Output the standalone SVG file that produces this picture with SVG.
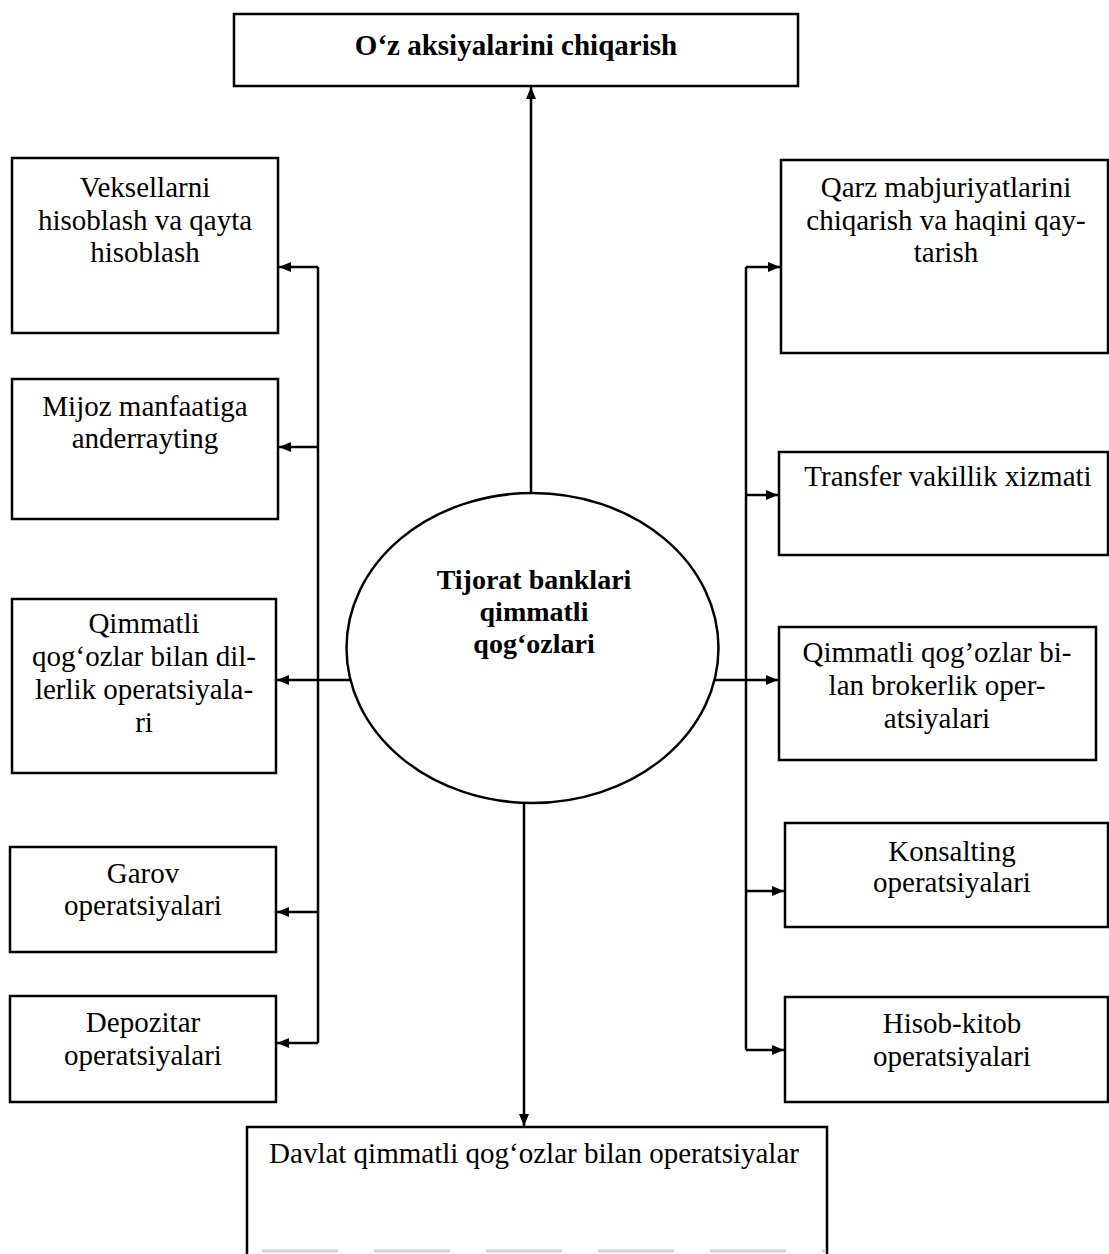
<svg xmlns="http://www.w3.org/2000/svg" width="1109" height="1254" viewBox="0 0 1109 1254">
<style>
.box{fill:#fff;stroke:#000;stroke-width:2.5}
.t{font-family:"Liberation Serif","Times New Roman",serif;font-size:29px;fill:#000;text-anchor:middle}
.b{font-weight:bold}
.e{font-size:28px}
.c{fill:none;stroke:#000;stroke-width:2.5}
</style>
<defs>
<marker id="arr" viewBox="0 0 12 10" refX="12" refY="5" markerWidth="12" markerHeight="10" markerUnits="userSpaceOnUse" orient="auto">
<path d="M0,0 L12,5 L0,10 z" fill="#000"/>
</marker>
</defs>
<rect width="1109" height="1254" fill="#fff"/>

<g id="n-top">
<rect class="box" x="234" y="14" width="564" height="72"/>
<text class="t b" x="516" y="55">O‘z aksiyalarini chiqarish</text>
</g>

<g id="n-center">
<ellipse class="box" cx="532.5" cy="648" rx="186" ry="155"/>
<text class="t b e" x="534" y="589">Tijorat banklari</text>
<text class="t b e" x="534" y="621">qimmatli</text>
<text class="t b e" x="534" y="653">qog‘ozlari</text>
</g>

<g id="n-veksel">
<rect class="box" x="12" y="158" width="266" height="175"/>
<text class="t" x="145" y="197">Veksellarni</text>
<text class="t" x="145" y="230">hisoblash va qayta</text>
<text class="t" x="145" y="262">hisoblash</text>
</g>

<g id="n-mijoz">
<rect class="box" x="12" y="379" width="266" height="140"/>
<text class="t" x="145" y="416">Mijoz manfaatiga</text>
<text class="t" x="145" y="448">anderrayting</text>
</g>

<g id="n-diler">
<rect class="box" x="12" y="599" width="264" height="174"/>
<text class="t" x="144" y="633">Qimmatli</text>
<text class="t" x="144" y="666">qog‘ozlar bilan dil-</text>
<text class="t" x="144" y="699">lerlik operatsiyala-</text>
<text class="t" x="144" y="732">ri</text>
</g>

<g id="n-garov">
<rect class="box" x="10" y="847" width="266" height="105"/>
<text class="t" x="143" y="883">Garov</text>
<text class="t" x="143" y="915">operatsiyalari</text>
</g>

<g id="n-depozitar">
<rect class="box" x="10" y="996" width="266" height="106"/>
<text class="t" x="143" y="1032">Depozitar</text>
<text class="t" x="143" y="1065">operatsiyalari</text>
</g>

<g id="n-qarz">
<rect class="box" x="781" y="160" width="327" height="193"/>
<text class="t" x="946" y="197">Qarz mabjuriyatlarini</text>
<text class="t" x="946" y="230">chiqarish va haqini qay-</text>
<text class="t" x="946" y="262">tarish</text>
</g>

<g id="n-transfer">
<rect class="box" x="779" y="452" width="329" height="103"/>
<text class="t" x="948" y="486">Transfer vakillik xizmati</text>
</g>

<g id="n-broker">
<rect class="box" x="779" y="627" width="317" height="133"/>
<text class="t" x="937" y="662">Qimmatli qog’ozlar bi-</text>
<text class="t" x="937" y="695">lan brokerlik oper-</text>
<text class="t" x="937" y="728">atsiyalari</text>
</g>

<g id="n-konsalting">
<rect class="box" x="785" y="823" width="323" height="104"/>
<text class="t" x="952" y="861">Konsalting</text>
<text class="t" x="952" y="892">operatsiyalari</text>
</g>

<g id="n-hisob">
<rect class="box" x="785" y="997" width="323" height="105"/>
<text class="t" x="952" y="1033">Hisob-kitob</text>
<text class="t" x="952" y="1066">operatsiyalari</text>
</g>

<g id="n-davlat">
<path class="box" d="M247,1256 V1127 H827 V1256"/>
<line x1="262" y1="1251" x2="826" y2="1251" stroke="#d4d4d4" stroke-width="3" stroke-dasharray="76,36"/>
<text class="t" x="534" y="1163">Davlat qimmatli qog‘ozlar bilan operatsiyalar</text>
</g>

<g id="connectors" class="c">
<path class="c" d="M531,493 V87" marker-end="url(#arr)"/>
<path class="c" d="M524,803 V1126" marker-end="url(#arr)"/>
<path class="c" d="M318,267 V1043"/>
<path class="c" d="M318,267 H279" marker-end="url(#arr)"/>
<path class="c" d="M318,447 H279" marker-end="url(#arr)"/>
<path class="c" d="M350,680 H277" marker-end="url(#arr)"/>
<path class="c" d="M318,912 H277" marker-end="url(#arr)"/>
<path class="c" d="M318,1043 H277" marker-end="url(#arr)"/>
<path class="c" d="M746,267 V1050"/>
<path class="c" d="M746,267 H780" marker-end="url(#arr)"/>
<path class="c" d="M746,495 H778" marker-end="url(#arr)"/>
<path class="c" d="M715,680 H778" marker-end="url(#arr)"/>
<path class="c" d="M746,891 H784" marker-end="url(#arr)"/>
<path class="c" d="M746,1050 H784" marker-end="url(#arr)"/>
</g>
</svg>
